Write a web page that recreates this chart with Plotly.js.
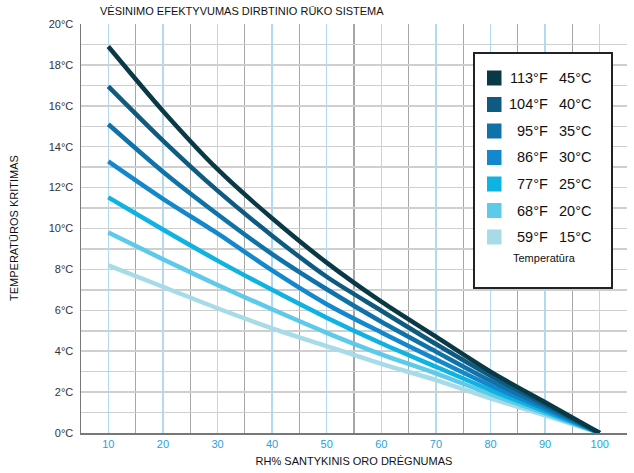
<!DOCTYPE html>
<html>
<head>
<meta charset="utf-8">
<script src="https://cdn.plot.ly/plotly-3.0.1.min.js"></script>
<style>html,body{margin:0;padding:0;background:#fff;}#chart{width:634px;height:473px;}</style>
</head>
<body>
<div id="chart"></div>
<script>
// ---- data ----
const rh = [10, 20, 30, 40, 50, 60, 70, 80, 90, 100];
const drop45 = [18.9, 15.75, 12.9, 10.5, 8.33, 6.42, 4.71, 3.0, 1.5, 0];
const drop40 = [16.95, 14.3, 11.85, 9.65, 7.64, 5.98, 4.35, 2.8, 1.4, 0];
const drop35 = [15.1, 12.78, 10.7, 8.75, 7.03, 5.44, 3.98, 2.55, 1.28, 0];
const drop30 = [13.28, 11.45, 9.76, 7.95, 6.3, 4.92, 3.6, 2.32, 1.17, 0];
const drop25 = [11.52, 9.95, 8.43, 7.0, 5.64, 4.39, 3.24, 2.1, 1.06, 0];
const drop20 = [9.8, 8.5, 7.24, 6.05, 4.9, 3.85, 2.92, 1.9, 0.96, 0];
const drop15 = [8.2, 7.15, 6.1, 5.12, 4.25, 3.38, 2.59, 1.7, 0.86, 0];
const labelsF = ["113°F", "104°F", "95°F", "86°F", "77°F", "68°F", "59°F"];
const labelsC = ["45°C", "40°C", "35°C", "30°C", "25°C", "20°C", "15°C"];
const legendTitle = "Temperatūra";
const chartTitle = "VĖSINIMO EFEKTYVUMAS DIRBTINIO RŪKO SISTEMA";
const xTitle = "RH% SANTYKINIS ORO DRĖGNUMAS";
const yTitle = "TEMPERATŪROS KRITIMAS";

const series = [drop45, drop40, drop35, drop30, drop25, drop20, drop15];
const colors = ["#0a3946", "#0e5a80", "#0f72a8", "#1388cc", "#0fb3e2", "#5ccae8", "#a7dbe8"];

// ---- layout helpers ----
const W = 634, H = 473;
const M = {l: 81, r: 7, t: 24, b: 40};
const pw = W - M.l - M.r, ph = H - M.t - M.b;
const px = x => (x - M.l) / pw;
const py = y => 1 - (y - M.t) / ph;
const FONT = "Liberation Sans, Arial, sans-serif";

const traces = [];
for (let i = series.length - 1; i >= 0; i--) {
  traces.push({
    x: rh, y: series[i], type: "scatter", mode: "lines",
    line: {color: colors[i], width: 4.5, shape: "spline", smoothing: 0.8},
    showlegend: false, hoverinfo: "skip"
  });
}

const shapes = [];
const annotations = [];
// legend box
shapes.push({type: "rect", xref: "paper", yref: "paper",
  x0: px(474), x1: px(612), y0: py(288), y1: py(53),
  line: {color: "#222", width: 2}, fillcolor: "#fff", layer: "above"});
const rowY = [78, 104.5, 131, 157.5, 184, 210.5, 237];
for (let i = 0; i < labelsF.length; i++) {
  shapes.push({type: "rect", xref: "paper", yref: "paper",
    x0: px(487), x1: px(501.5), y0: py(rowY[i] + 7.5), y1: py(rowY[i] - 7.5),
    line: {width: 0}, fillcolor: colors[i], layer: "above"});
  annotations.push({xref: "paper", yref: "paper", x: px(549.5), y: py(rowY[i]),
    xanchor: "right", yanchor: "middle", showarrow: false, text: labelsF[i],
    font: {family: FONT, size: 14.5, color: "#111"}});
  annotations.push({xref: "paper", yref: "paper", x: px(557), y: py(rowY[i]),
    xanchor: "left", yanchor: "middle", showarrow: false, text: labelsC[i],
    font: {family: FONT, size: 14.5, color: "#111"}});
}
annotations.push({xref: "paper", yref: "paper", x: px(544), y: py(258),
  xanchor: "center", yanchor: "middle", showarrow: false, text: legendTitle,
  font: {family: FONT, size: 11, color: "#111"}});
annotations.push({xref: "paper", yref: "paper", x: px(14), y: py(228),
  xanchor: "center", yanchor: "middle", showarrow: false, text: yTitle, textangle: -90,
  font: {family: FONT, size: 11, color: "#111"}});

const layout = {
  width: W, height: H,
  margin: M,
  paper_bgcolor: "#fff", plot_bgcolor: "#fff",
  font: {family: FONT, size: 11, color: "#333"},
  title: {text: chartTitle, x: 100 / W, xref: "container", xanchor: "left",
    y: 1 - 11 / H, yref: "container", yanchor: "middle",
    font: {family: FONT, size: 11, color: "#111"}},
  xaxis: {
    range: [5, 105], tick0: 10, dtick: 10, tickmode: "linear",
    showgrid: true, gridcolor: "#b3d8f2", gridwidth: 1.5,
    minor: {tick0: 5, dtick: 10, showgrid: true, gridcolor: "#a6a6a6", gridwidth: 1.3, ticklen: 0},
    showline: true, linecolor: "#777", linewidth: 1.5,
    ticks: "", zeroline: false,
    tickfont: {family: FONT, size: 11, color: "#2a9fd8"},
    title: {text: xTitle, standoff: 8, font: {family: FONT, size: 11, color: "#111"}}
  },
  yaxis: {
    range: [0, 20], tick0: 0, dtick: 2, tickmode: "linear",
    ticksuffix: "°C",
    showgrid: true, gridcolor: "#cfcfcf", gridwidth: 1.5,
    minor: {tick0: 0, dtick: 1, showgrid: true, gridcolor: "#cfcfcf", gridwidth: 1.5, ticklen: 0},
    showline: true, linecolor: "#777", linewidth: 1.5,
    ticks: "", zeroline: false, ticklabelstandoff: 4,
    tickfont: {family: FONT, size: 11, color: "#333"}
  },
  shapes: shapes,
  annotations: annotations,
  showlegend: false
};

Plotly.newPlot("chart", traces, layout, {displayModeBar: false, staticPlot: true});
</script>
</body>
</html>
